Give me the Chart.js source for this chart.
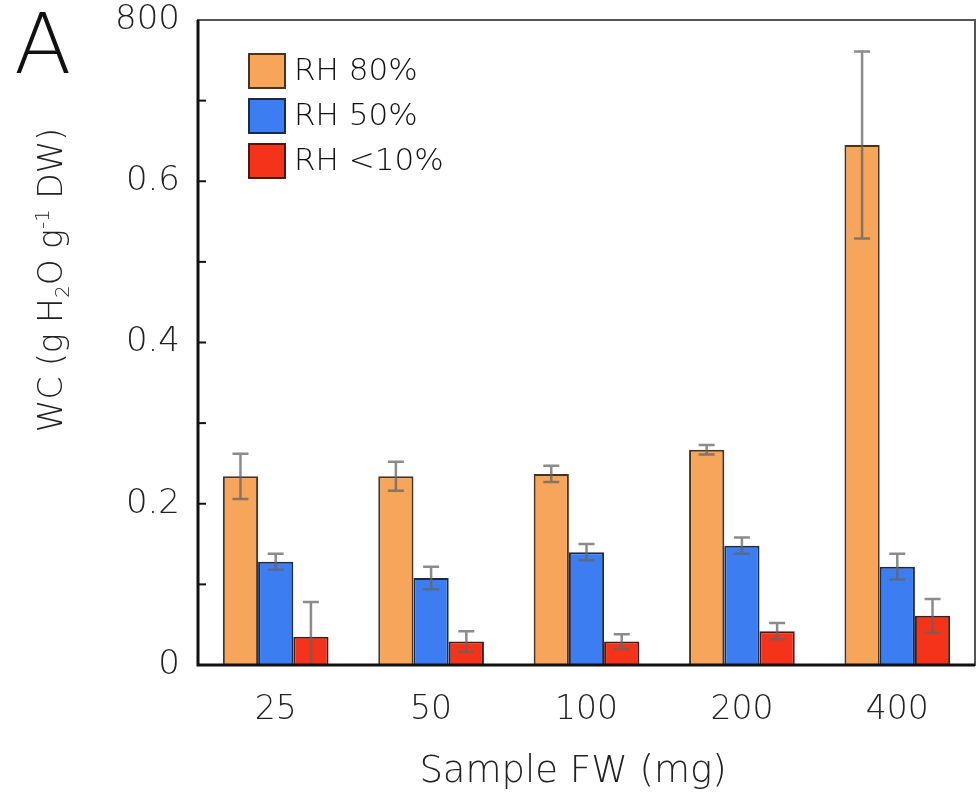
<!DOCTYPE html>
<html lang="en">
<head>
<meta charset="UTF-8">
<title>Water content vs sample FW</title>
<style>
  body { margin: 0; background: #fff; }
  #wrap { width: 980px; height: 800px; }
</style>
</head>
<body>
<div id="wrap"><canvas id="myChart" width="980" height="800"></canvas></div>
<script src="https://cdn.jsdelivr.net/npm/chart.js"></script>
<script>
// data
const categories = ['25', '50', '100', '200', '400'];
const rh80 = [0.234, 0.234, 0.237, 0.267, 0.645];
const rh80Err = [0.028, 0.018, 0.010, 0.006, 0.116];
const rh50 = [0.128, 0.108, 0.140, 0.148, 0.122];
const rh50Err = [0.010, 0.014, 0.010, 0.010, 0.016];
const rh10 = [0.035, 0.029, 0.029, 0.042, 0.061];
const rh10Err = [0.043, 0.013, 0.009, 0.010, 0.021];
const yTickValues = [0, 0.2, 0.4, 0.6, 0.8];
const yTickLabels = ['0', '0.2', '0.4', '0.6', '800'];

const FONT = '"DejaVu Sans", "Liberation Sans", sans-serif';
const TEXT = '#222';

// error bars, legend, frame and titles
const extras = {
  id: 'extras',
  afterDatasetsDraw(chart) {
    const ctx = chart.ctx;
    const y = chart.scales.y;
    ctx.save();
    chart.data.datasets.forEach((ds, i) => {
      const meta = chart.getDatasetMeta(i);
      meta.data.forEach((bar, j) => {
        const v = ds.data[j], e = ds.errors[j];
        const top = y.getPixelForValue(v + e);
        const lowV = v - e;
        const bot = y.getPixelForValue(Math.max(lowV, 0));
        ctx.strokeStyle = 'rgba(100,100,100,0.75)';
        ctx.lineWidth = 2.5;
        ctx.beginPath();
        ctx.moveTo(bar.x, top); ctx.lineTo(bar.x, bot);
        ctx.moveTo(bar.x - 8, top); ctx.lineTo(bar.x + 8, top);
        if (lowV > 0) { ctx.moveTo(bar.x - 8, bot); ctx.lineTo(bar.x + 8, bot); }
        ctx.stroke();
      });
    });
    ctx.restore();
  },
  afterDraw(chart) {
    const ctx = chart.ctx;
    const a = chart.chartArea;
    const y = chart.scales.y;
    ctx.save();
    // frame
    ctx.strokeStyle = '#555';
    ctx.lineWidth = 2;
    ctx.strokeRect(a.left, a.top, a.right - a.left, a.bottom - a.top);
    ctx.strokeStyle = '#111';
    ctx.lineWidth = 3;
    ctx.beginPath();
    ctx.moveTo(a.left, a.top); ctx.lineTo(a.left, a.bottom); ctx.lineTo(a.right, a.bottom);
    ctx.stroke();
    // inward ticks
    ctx.lineWidth = 2;
    y.ticks.forEach(t => {
      const py = y.getPixelForValue(t.value);
      if (t.value <= 0 || t.value >= 0.8 - 1e-6) return;
      ctx.beginPath();
      ctx.moveTo(a.left, py); ctx.lineTo(a.left + 8, py);
      ctx.stroke();
    });

    // legend
    ctx.textBaseline = 'middle';
    ctx.textAlign = 'left';
    ctx.font = '200 31px ' + FONT;
    chart.data.datasets.forEach((ds, i) => {
      const bx = 249, by = 54 + i * 45;
      ctx.fillStyle = ds.backgroundColor;
      ctx.fillRect(bx, by, 36, 34);
      ctx.strokeStyle = ds.borderColor;
      ctx.lineWidth = 2;
      ctx.strokeRect(bx, by, 36, 34);
      ctx.fillStyle = '#111';
      ctx.fillText(ds.label, 294, by + 18);
    });

    // panel letter
    ctx.fillStyle = '#111';
    ctx.textBaseline = 'alphabetic';
    ctx.font = '200 84px ' + FONT;
    ctx.fillText('A', 14, 73);

    // x title
    ctx.fillStyle = TEXT;
    ctx.textAlign = 'center';
    ctx.textBaseline = 'middle';
    ctx.font = '200 37px ' + FONT;
    ctx.fillText('Sample FW (mg)', 573, 772);

    // y title with sub/superscript
    const parts = [
      { t: 'WC (g H', f: 33, dy: 0 },
      { t: '2', f: 20, dy: 7 },
      { t: 'O g', f: 33, dy: 0 },
      { t: '-1', f: 20, dy: -13 },
      { t: ' DW)', f: 33, dy: 0 }
    ];
    let total = 0;
    parts.forEach(p => { ctx.font = '200 ' + p.f + 'px ' + FONT; p.w = ctx.measureText(p.t).width; total += p.w; });
    ctx.translate(50, 280);
    ctx.rotate(-Math.PI / 2);
    ctx.textAlign = 'left';
    ctx.textBaseline = 'alphabetic';
    let cx = -total / 2;
    parts.forEach(p => {
      ctx.font = '200 ' + p.f + 'px ' + FONT;
      ctx.fillText(p.t, cx, 12 + p.dy);
      cx += p.w;
    });
    ctx.restore();
  }
};

const ctx = document.getElementById('myChart').getContext('2d');
const chart = new Chart(ctx, {
  type: 'bar',
  data: {
    labels: categories,
    datasets: [{
      label: 'RH 80%',
      data: rh80,
      errors: rh80Err,
      backgroundColor: '#F6A55B',
      borderColor: '#4a3220',
      borderWidth: 2
    }, {
      label: 'RH 50%',
      data: rh50,
      errors: rh50Err,
      backgroundColor: '#3C7DF2',
      borderColor: '#1c2a4a',
      borderWidth: 2
    }, {
      label: 'RH <10%',
      data: rh10,
      errors: rh10Err,
      backgroundColor: '#F5321A',
      borderColor: '#4a1a10',
      borderWidth: 2
    }]
  },
  options: {
    responsive: false,
    animation: false,
    layout: { padding: { top: 20, right: 5, left: 0, bottom: 0 } },
    datasets: { bar: { categoryPercentage: 0.68, barPercentage: 1 } },
    plugins: {
      legend: { display: false },
      tooltip: { enabled: false }
    },
    scales: {
      x: {
        grid: { display: false, drawTicks: false },
        border: { display: false },
        ticks: { color: TEXT, font: { family: FONT, size: 33, weight: 200 }, padding: 26 },
        afterFit: s => { s.height = 135; }
      },
      y: {
        min: 0,
        max: 0.8,
        grid: { display: false, drawTicks: false },
        border: { display: false },
        ticks: {
          stepSize: 0.1,
          color: TEXT,
          font: { family: FONT, size: 34, weight: 200 },
          padding: 18,
          callback: v => {
            const k = yTickValues.findIndex(t => Math.abs(t - v) < 1e-6);
            return k >= 0 ? yTickLabels[k] : '';
          }
        },
        afterFit: s => { s.width = 198; s.paddingTop = 0; }
      }
    }
  },
  plugins: [extras]
});
</script>
</body>
</html>
